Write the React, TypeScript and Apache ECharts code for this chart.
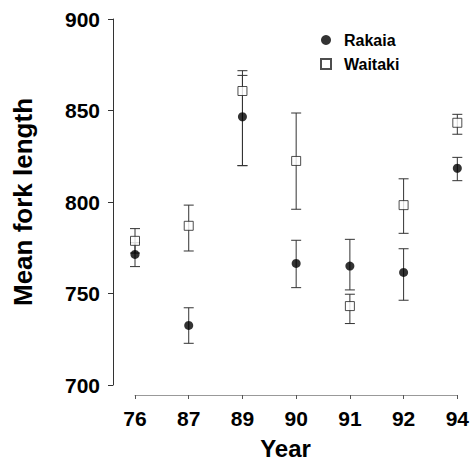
import React, { useEffect, useRef } from "react";
import * as echarts from "echarts";

const years = ["76", "87", "89", "90", "91", "92", "94"];
const rakaiaMean = [774.8, 737, 848, 770, 768.6, 765.2, 820.6];
const rakaiaLow = [768.3, 727.5, 822, 757.1, 755.9, 750.4, 814];
const rakaiaHigh = [781, 746.4, 870, 782.3, 782.8, 777.8, 826.4];
const waitakiMean = [782, 790, 861.7, 824.5, 747.3, 801, 844.8];
const waitakiLow = [775.5, 776.6, 822, 798.8, 738, 786, 838.7];
const waitakiHigh = [788.5, 801, 872.5, 850, 753.6, 815, 849.3];
const yTicks = [700, 750, 800, 850, 900];

const FONT = "Liberation Sans, Arial, sans-serif";

function errorSeries(low: number[], high: number[]) {
  return {
    type: "custom",
    xAxisIndex: 1,
    yAxisIndex: 1,
    silent: true,
    z: 1,
    data: low.map((l, i) => [i, l, high[i]]),
    renderItem: (params: any, api: any) => {
      const x = api.value(0);
      const lo = api.coord([x, api.value(1)]);
      const hi = api.coord([x, api.value(2)]);
      const cap = 5;
      const style = { stroke: "#333", lineWidth: 1 };
      return {
        type: "group",
        children: [
          { type: "line", shape: { x1: lo[0], y1: lo[1], x2: hi[0], y2: hi[1] }, style },
          { type: "line", shape: { x1: lo[0] - cap, y1: lo[1], x2: lo[0] + cap, y2: lo[1] }, style },
          { type: "line", shape: { x1: hi[0] - cap, y1: hi[1], x2: hi[0] + cap, y2: hi[1] }, style },
        ],
      };
    },
  };
}

export default function App() {
  const ref = useRef<HTMLDivElement>(null);
  useEffect(() => {
    if (!ref.current) return;
    const chart = echarts.init(ref.current, null, { renderer: "svg" });
    chart.setOption({
      animation: false,
      backgroundColor: "#fff",
      textStyle: { fontFamily: FONT },
      legend: {
        orient: "vertical",
        left: 315,
        top: 27,
        itemGap: 8,
        itemWidth: 10,
        itemHeight: 10,
        data: ["Rakaia", "Waitaki"],
        textStyle: { fontFamily: FONT, fontWeight: "bold", fontSize: 16, color: "#000", padding: [0, 0, 0, 8] },
      },
      grid: [
        { left: 113, right: 14, top: 19, bottom: 70 },
        { left: 135, right: 14, top: 19, bottom: 70 },
      ],
      xAxis: [
        {
          gridIndex: 0,
          type: "value",
          min: 0,
          max: 1,
          axisLine: { show: false },
          axisTick: { show: false },
          axisLabel: { show: false },
          splitLine: { show: false },
          name: "Year",
          nameLocation: "middle",
          nameGap: 51,
          nameTextStyle: { fontFamily: FONT, fontWeight: "bold", fontSize: 24, color: "#000" },
        },
        {
          gridIndex: 1,
          type: "category",
          data: years,
          boundaryGap: false,
          axisLine: { show: true, lineStyle: { color: "#999", width: 1 } },
          axisTick: { show: true, length: 4, lineStyle: { color: "#555" }, alignWithLabel: true },
          axisLabel: { fontFamily: FONT, fontWeight: "bold", fontSize: 21, color: "#000", margin: 13 },
          splitLine: { show: false },
        },
      ],
      yAxis: [
        {
          gridIndex: 0,
          type: "value",
          min: 700,
          max: 900,
          interval: 50,
          axisLine: { show: true, lineStyle: { color: "#333", width: 1 } },
          axisTick: { show: true, length: 5, lineStyle: { color: "#333" } },
          axisLabel: {
            fontFamily: FONT,
            fontWeight: "bold",
            fontSize: 21,
            color: "#000",
            margin: 13,
            formatter: (v: number) => (yTicks.includes(v) ? String(v) : ""),
          },
          splitLine: { show: false },
          name: "Mean fork length",
          nameLocation: "middle",
          nameGap: 77,
          nameTextStyle: { fontFamily: FONT, fontWeight: "bold", fontSize: 26, color: "#000" },
        },
        {
          gridIndex: 1,
          type: "value",
          min: 700,
          max: 900,
          show: false,
        },
      ],
      series: [
        errorSeries(rakaiaLow, rakaiaHigh),
        errorSeries(waitakiLow, waitakiHigh),
        {
          name: "Rakaia",
          type: "scatter",
          xAxisIndex: 1,
          yAxisIndex: 1,
          symbol: "circle",
          symbolSize: 9,
          z: 3,
          itemStyle: { color: "#000" },
          data: rakaiaMean.map((v, i) => [i, v]),
        },
        {
          name: "Waitaki",
          type: "scatter",
          xAxisIndex: 1,
          yAxisIndex: 1,
          symbol: "rect",
          symbolSize: 9,
          z: 3,
          itemStyle: { color: "#fff", borderColor: "#222", borderWidth: 1 },
          data: waitakiMean.map((v, i) => [i, v]),
        },
      ],
    });
    return () => chart.dispose();
  }, []);
  return <div ref={ref} style={{ width: 472, height: 465, position: "absolute", left: 0, top: 0 }} />;
}
